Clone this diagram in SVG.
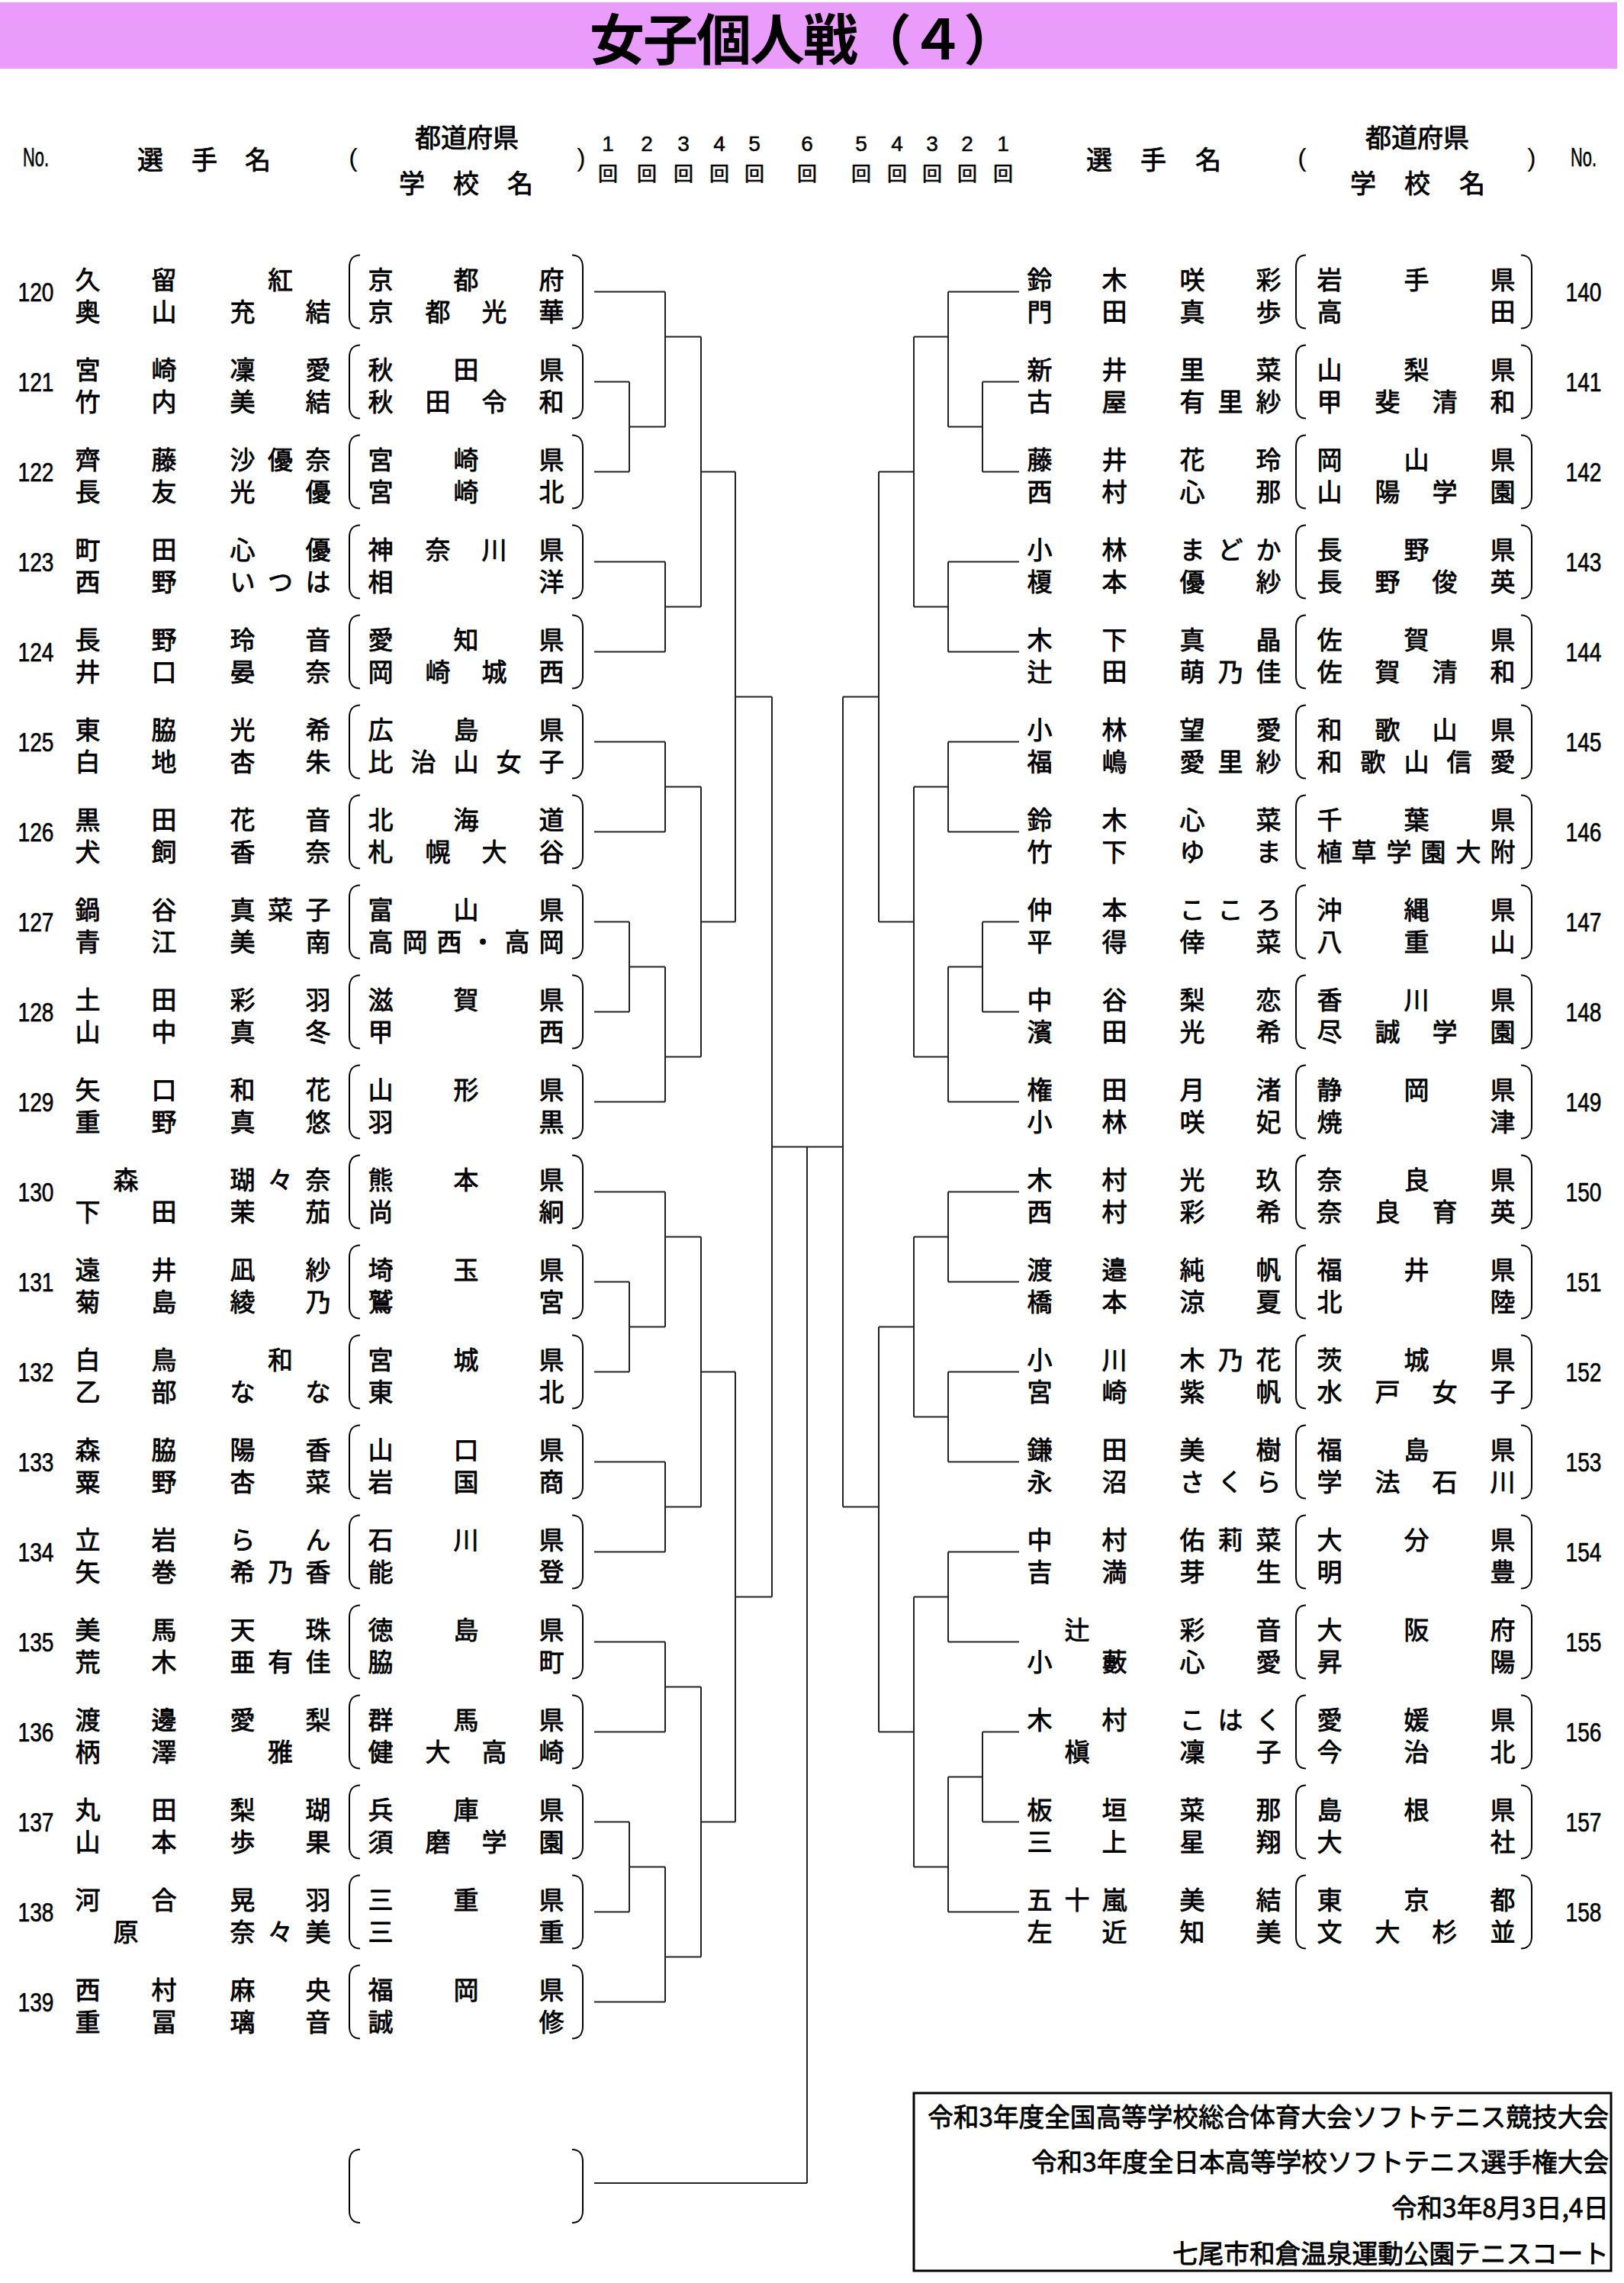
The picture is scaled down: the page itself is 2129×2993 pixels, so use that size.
<svg xmlns="http://www.w3.org/2000/svg" xmlns:xlink="http://www.w3.org/1999/xlink" width="2129" height="2993" viewBox="0 0 2129 2993">
<style>
.t{font-family:"Noto Sans CJK JP","Noto Sans CJK SC",sans-serif;font-size:33px;text-anchor:middle;dominant-baseline:central;fill:#000;stroke:#000;stroke-width:0.8px}
.h{font-family:"Noto Sans CJK JP","Noto Sans CJK SC",sans-serif;font-size:34px;text-anchor:middle;dominant-baseline:central;fill:#000;stroke:#000;stroke-width:0.8px}
.k{font-family:"Noto Sans CJK JP","Noto Sans CJK SC",sans-serif;font-size:26px;text-anchor:middle;dominant-baseline:central;fill:#000;stroke:#000;stroke-width:0.6px}
.d{font-family:"Liberation Sans",Arial,sans-serif;font-size:28px;text-anchor:middle;dominant-baseline:central;fill:#000;stroke:#000;stroke-width:0.5px}
.n{font-family:"Liberation Sans",Arial,sans-serif;font-size:35px;text-anchor:middle;dominant-baseline:central;fill:#000;stroke:#000;stroke-width:0.6px}
.p{font-family:"Liberation Sans",Arial,sans-serif;font-size:34px;text-anchor:middle;dominant-baseline:central;fill:#000}
.f{font-family:"Noto Sans CJK JP","Noto Sans CJK SC",sans-serif;font-size:34px;text-anchor:end;dominant-baseline:central;fill:#000;stroke:#000;stroke-width:0.8px}
.ln{fill:none;stroke:#222;stroke-width:2}
.br{fill:none;stroke:#000;stroke-width:2}
</style>
<defs>
<path id="bl" class="br" d="M472,-48 C463,-48 458,-42 458,-32 V32 C458,42 463,48 472,48 M750,-48 C759,-48 764,-42 764,-32 V32 C764,42 759,48 750,48"/>
<path id="brr" class="br" d="M1712,-48 C1703,-48 1699,-42 1699,-32 V32 C1699,42 1703,48 1712,48 M1994,-48 C2003,-48 2008,-42 2008,-32 V32 C2008,42 2003,48 1994,48"/>
</defs>
<rect width="2129" height="2993" fill="#fff"/>
<g id="title">
<rect x="0" y="3" width="2120" height="87" fill="#E99CF9"/>
<text x="773" y="46" font-family="'Noto Sans CJK JP','Noto Sans CJK SC',sans-serif" font-size="72" font-weight="bold" dominant-baseline="central" textLength="562" lengthAdjust="spacing">女子個人戦（４）</text>
</g>
<g id="header">
<text class="n" x="47" y="205" textLength="34" lengthAdjust="spacingAndGlyphs">No.</text>
<text class="h" x="197 268 338" y="207">選手名</text>
<text class="p" x="463" y="206">(</text>
<text class="h" x="612" y="178">都道府県</text>
<text class="h" x="540 611 682" y="238">学校名</text>
<text class="p" x="762" y="206">)</text>
<text class="d" x="797 848 896 943 989 1058" y="188">123456</text>
<text class="k" x="797 848 896 943 989 1058" y="225">回回回回回回</text>
<text class="d" x="1129 1176 1222 1268 1315" y="188">54321</text>
<text class="k" x="1129 1176 1222 1268 1315" y="225">回回回回回</text>
<text class="h" x="1441 1512 1584" y="207">選手名</text>
<text class="p" x="1707" y="206">(</text>
<text class="h" x="1858" y="178">都道府県</text>
<text class="h" x="1787 1858 1930" y="238">学校名</text>
<text class="p" x="2008" y="206">)</text>
<text class="n" x="2076" y="205" textLength="34" lengthAdjust="spacingAndGlyphs">No.</text>
</g>
<g id="connectors" class="ln">
<path d="M779 382.5H872M779 500.5H825M779 618.5H825M825 500.5V618.5M825 559.5H872M872 382.5V559.5M872 441.5H919M779 736.5H872M779 854.5H872M872 736.5V854.5M872 795.5H919M919 441.5V795.5M919 618.5H964
M779 972.5H872M779 1090.5H872M872 972.5V1090.5M872 1031.5H919M779 1208.5H825M779 1326.5H825M825 1208.5V1326.5M825 1267.5H872M779 1444.5H872M872 1267.5V1444.5M872 1385.5H919M919 1031.5V1385.5M919 1208.5H964M964 618.5V1208.5M964 913.5H1012
M779 1562.5H872M779 1680.5H825M779 1798.5H825M825 1680.5V1798.5M825 1739.5H872M872 1562.5V1739.5M872 1621.5H919M779 1916.5H872M779 2034.5H872M872 1916.5V2034.5M872 1975.5H919M919 1621.5V1975.5M919 1798.5H964
M779 2152.5H872M779 2270.5H872M872 2152.5V2270.5M872 2211.5H919M779 2388.5H825M779 2506.5H825M825 2388.5V2506.5M825 2447.5H872M779 2624.5H872M872 2447.5V2624.5M872 2565.5H919M919 2211.5V2565.5M919 2388.5H964M964 1798.5V2388.5M964 2093.5H1012M1012 913.5V2093.5
M1012 1503.5H1105M1058 1503.5V2862M779 2862H1058
M1336 382.5H1243M1336 500.5H1288M1336 618.5H1288M1288 500.5V618.5M1288 559.5H1243M1243 382.5V559.5M1243 441.5H1198M1336 736.5H1243M1336 854.5H1243M1243 736.5V854.5M1243 795.5H1198M1198 441.5V795.5M1198 618.5H1152
M1336 972.5H1243M1336 1090.5H1243M1243 972.5V1090.5M1243 1031.5H1198M1336 1208.5H1288M1336 1326.5H1288M1288 1208.5V1326.5M1288 1267.5H1243M1336 1444.5H1243M1243 1267.5V1444.5M1243 1385.5H1198M1198 1031.5V1385.5M1198 1208.5H1152M1152 618.5V1208.5M1152 913.5H1105
M1336 1562.5H1243M1336 1680.5H1243M1243 1562.5V1680.5M1243 1621.5H1198M1336 1798.5H1243M1336 1916.5H1243M1243 1798.5V1916.5M1243 1857.5H1198M1198 1621.5V1857.5M1198 1739.5H1152
M1336 2034.5H1243M1336 2152.5H1243M1243 2034.5V2152.5M1243 2093.5H1198M1336 2270.5H1288M1336 2388.5H1288M1288 2270.5V2388.5M1288 2329.5H1243M1336 2506.5H1243M1243 2329.5V2506.5M1243 2447.5H1198M1198 2093.5V2447.5M1198 2270.5H1152M1152 1739.5V2270.5M1152 1975.5H1105M1105 913.5V1975.5"/>
</g>
<g id="p120"><text class="n" x="47" y="382.5" textLength="47" lengthAdjust="spacingAndGlyphs">120</text><text class="t" x="115 215 367.5" y="365">久留紅</text><text class="t" x="115 215 318 417" y="406.5">奥山充結</text><text class="t" x="499 611 723" y="365">京都府</text><text class="t" x="499 574 648 723" y="406.5">京都光華</text><use href="#bl" y="382.5"/></g>
<g id="p121"><text class="n" x="47" y="500.5" textLength="47" lengthAdjust="spacingAndGlyphs">121</text><text class="t" x="115 215 318 417" y="483">宮崎凜愛</text><text class="t" x="115 215 318 417" y="524.5">竹内美結</text><text class="t" x="499 611 723" y="483">秋田県</text><text class="t" x="499 574 648 723" y="524.5">秋田令和</text><use href="#bl" y="500.5"/></g>
<g id="p122"><text class="n" x="47" y="618.5" textLength="47" lengthAdjust="spacingAndGlyphs">122</text><text class="t" x="115 215 318 367.5 417" y="601">齊藤沙優奈</text><text class="t" x="115 215 318 417" y="642.5">長友光優</text><text class="t" x="499 611 723" y="601">宮崎県</text><text class="t" x="499 611 723" y="642.5">宮崎北</text><use href="#bl" y="618.5"/></g>
<g id="p123"><text class="n" x="47" y="736.5" textLength="47" lengthAdjust="spacingAndGlyphs">123</text><text class="t" x="115 215 318 417" y="719">町田心優</text><text class="t" x="115 215 318 367.5 417" y="760.5">西野いつは</text><text class="t" x="499 574 648 723" y="719">神奈川県</text><text class="t" x="499 723" y="760.5">相洋</text><use href="#bl" y="736.5"/></g>
<g id="p124"><text class="n" x="47" y="854.5" textLength="47" lengthAdjust="spacingAndGlyphs">124</text><text class="t" x="115 215 318 417" y="837">長野玲音</text><text class="t" x="115 215 318 417" y="878.5">井口晏奈</text><text class="t" x="499 611 723" y="837">愛知県</text><text class="t" x="499 574 648 723" y="878.5">岡崎城西</text><use href="#bl" y="854.5"/></g>
<g id="p125"><text class="n" x="47" y="972.5" textLength="47" lengthAdjust="spacingAndGlyphs">125</text><text class="t" x="115 215 318 417" y="955">東脇光希</text><text class="t" x="115 215 318 417" y="996.5">白地杏朱</text><text class="t" x="499 611 723" y="955">広島県</text><text class="t" x="499 555 611 667 723" y="996.5">比治山女子</text><use href="#bl" y="972.5"/></g>
<g id="p126"><text class="n" x="47" y="1090.5" textLength="47" lengthAdjust="spacingAndGlyphs">126</text><text class="t" x="115 215 318 417" y="1073">黒田花音</text><text class="t" x="115 215 318 417" y="1114.5">犬飼香奈</text><text class="t" x="499 611 723" y="1073">北海道</text><text class="t" x="499 574 648 723" y="1114.5">札幌大谷</text><use href="#bl" y="1090.5"/></g>
<g id="p127"><text class="n" x="47" y="1208.5" textLength="47" lengthAdjust="spacingAndGlyphs">127</text><text class="t" x="115 215 318 367.5 417" y="1191">鍋谷真菜子</text><text class="t" x="115 215 318 417" y="1232.5">青江美南</text><text class="t" x="499 611 723" y="1191">富山県</text><text class="t" x="499 544 589 633 678 723" y="1232.5">高岡西・高岡</text><use href="#bl" y="1208.5"/></g>
<g id="p128"><text class="n" x="47" y="1326.5" textLength="47" lengthAdjust="spacingAndGlyphs">128</text><text class="t" x="115 215 318 417" y="1309">土田彩羽</text><text class="t" x="115 215 318 417" y="1350.5">山中真冬</text><text class="t" x="499 611 723" y="1309">滋賀県</text><text class="t" x="499 723" y="1350.5">甲西</text><use href="#bl" y="1326.5"/></g>
<g id="p129"><text class="n" x="47" y="1444.5" textLength="47" lengthAdjust="spacingAndGlyphs">129</text><text class="t" x="115 215 318 417" y="1427">矢口和花</text><text class="t" x="115 215 318 417" y="1468.5">重野真悠</text><text class="t" x="499 611 723" y="1427">山形県</text><text class="t" x="499 723" y="1468.5">羽黒</text><use href="#bl" y="1444.5"/></g>
<g id="p130"><text class="n" x="47" y="1562.5" textLength="47" lengthAdjust="spacingAndGlyphs">130</text><text class="t" x="165 318 367.5 417" y="1545">森瑚々奈</text><text class="t" x="115 215 318 417" y="1586.5">下田茉茄</text><text class="t" x="499 611 723" y="1545">熊本県</text><text class="t" x="499 723" y="1586.5">尚絅</text><use href="#bl" y="1562.5"/></g>
<g id="p131"><text class="n" x="47" y="1680.5" textLength="47" lengthAdjust="spacingAndGlyphs">131</text><text class="t" x="115 215 318 417" y="1663">遠井凪紗</text><text class="t" x="115 215 318 417" y="1704.5">菊島綾乃</text><text class="t" x="499 611 723" y="1663">埼玉県</text><text class="t" x="499 723" y="1704.5">鷲宮</text><use href="#bl" y="1680.5"/></g>
<g id="p132"><text class="n" x="47" y="1798.5" textLength="47" lengthAdjust="spacingAndGlyphs">132</text><text class="t" x="115 215 367.5" y="1781">白鳥和</text><text class="t" x="115 215 318 417" y="1822.5">乙部なな</text><text class="t" x="499 611 723" y="1781">宮城県</text><text class="t" x="499 723" y="1822.5">東北</text><use href="#bl" y="1798.5"/></g>
<g id="p133"><text class="n" x="47" y="1916.5" textLength="47" lengthAdjust="spacingAndGlyphs">133</text><text class="t" x="115 215 318 417" y="1899">森脇陽香</text><text class="t" x="115 215 318 417" y="1940.5">粟野杏菜</text><text class="t" x="499 611 723" y="1899">山口県</text><text class="t" x="499 611 723" y="1940.5">岩国商</text><use href="#bl" y="1916.5"/></g>
<g id="p134"><text class="n" x="47" y="2034.5" textLength="47" lengthAdjust="spacingAndGlyphs">134</text><text class="t" x="115 215 318 417" y="2017">立岩らん</text><text class="t" x="115 215 318 367.5 417" y="2058.5">矢巻希乃香</text><text class="t" x="499 611 723" y="2017">石川県</text><text class="t" x="499 723" y="2058.5">能登</text><use href="#bl" y="2034.5"/></g>
<g id="p135"><text class="n" x="47" y="2152.5" textLength="47" lengthAdjust="spacingAndGlyphs">135</text><text class="t" x="115 215 318 417" y="2135">美馬天珠</text><text class="t" x="115 215 318 367.5 417" y="2176.5">荒木亜有佳</text><text class="t" x="499 611 723" y="2135">徳島県</text><text class="t" x="499 723" y="2176.5">脇町</text><use href="#bl" y="2152.5"/></g>
<g id="p136"><text class="n" x="47" y="2270.5" textLength="47" lengthAdjust="spacingAndGlyphs">136</text><text class="t" x="115 215 318 417" y="2253">渡邊愛梨</text><text class="t" x="115 215 367.5" y="2294.5">柄澤雅</text><text class="t" x="499 611 723" y="2253">群馬県</text><text class="t" x="499 574 648 723" y="2294.5">健大高崎</text><use href="#bl" y="2270.5"/></g>
<g id="p137"><text class="n" x="47" y="2388.5" textLength="47" lengthAdjust="spacingAndGlyphs">137</text><text class="t" x="115 215 318 417" y="2371">丸田梨瑚</text><text class="t" x="115 215 318 417" y="2412.5">山本歩果</text><text class="t" x="499 611 723" y="2371">兵庫県</text><text class="t" x="499 574 648 723" y="2412.5">須磨学園</text><use href="#bl" y="2388.5"/></g>
<g id="p138"><text class="n" x="47" y="2506.5" textLength="47" lengthAdjust="spacingAndGlyphs">138</text><text class="t" x="115 215 318 417" y="2489">河合晃羽</text><text class="t" x="165 318 367.5 417" y="2530.5">原奈々美</text><text class="t" x="499 611 723" y="2489">三重県</text><text class="t" x="499 723" y="2530.5">三重</text><use href="#bl" y="2506.5"/></g>
<g id="p139"><text class="n" x="47" y="2624.5" textLength="47" lengthAdjust="spacingAndGlyphs">139</text><text class="t" x="115 215 318 417" y="2607">西村麻央</text><text class="t" x="115 215 318 417" y="2648.5">重冨璃音</text><text class="t" x="499 611 723" y="2607">福岡県</text><text class="t" x="499 723" y="2648.5">誠修</text><use href="#bl" y="2624.5"/></g>
<g id="empty"><use href="#bl" y="2866"/></g>
<g id="p140"><text class="n" x="2076" y="382.5" textLength="47" lengthAdjust="spacingAndGlyphs">140</text><text class="t" x="1363 1461 1563 1663" y="365">鈴木咲彩</text><text class="t" x="1363 1461 1563 1663" y="406.5">門田真歩</text><text class="t" x="1743 1857 1970" y="365">岩手県</text><text class="t" x="1743 1970" y="406.5">高田</text><use href="#brr" y="382.5"/></g>
<g id="p141"><text class="n" x="2076" y="500.5" textLength="47" lengthAdjust="spacingAndGlyphs">141</text><text class="t" x="1363 1461 1563 1663" y="483">新井里菜</text><text class="t" x="1363 1461 1563 1613 1663" y="524.5">古屋有里紗</text><text class="t" x="1743 1857 1970" y="483">山梨県</text><text class="t" x="1743 1819 1894 1970" y="524.5">甲斐清和</text><use href="#brr" y="500.5"/></g>
<g id="p142"><text class="n" x="2076" y="618.5" textLength="47" lengthAdjust="spacingAndGlyphs">142</text><text class="t" x="1363 1461 1563 1663" y="601">藤井花玲</text><text class="t" x="1363 1461 1563 1663" y="642.5">西村心那</text><text class="t" x="1743 1857 1970" y="601">岡山県</text><text class="t" x="1743 1819 1894 1970" y="642.5">山陽学園</text><use href="#brr" y="618.5"/></g>
<g id="p143"><text class="n" x="2076" y="736.5" textLength="47" lengthAdjust="spacingAndGlyphs">143</text><text class="t" x="1363 1461 1563 1613 1663" y="719">小林まどか</text><text class="t" x="1363 1461 1563 1663" y="760.5">榎本優紗</text><text class="t" x="1743 1857 1970" y="719">長野県</text><text class="t" x="1743 1819 1894 1970" y="760.5">長野俊英</text><use href="#brr" y="736.5"/></g>
<g id="p144"><text class="n" x="2076" y="854.5" textLength="47" lengthAdjust="spacingAndGlyphs">144</text><text class="t" x="1363 1461 1563 1663" y="837">木下真晶</text><text class="t" x="1363 1461 1563 1613 1663" y="878.5">辻田萌乃佳</text><text class="t" x="1743 1857 1970" y="837">佐賀県</text><text class="t" x="1743 1819 1894 1970" y="878.5">佐賀清和</text><use href="#brr" y="854.5"/></g>
<g id="p145"><text class="n" x="2076" y="972.5" textLength="47" lengthAdjust="spacingAndGlyphs">145</text><text class="t" x="1363 1461 1563 1663" y="955">小林望愛</text><text class="t" x="1363 1461 1563 1613 1663" y="996.5">福嶋愛里紗</text><text class="t" x="1743 1819 1894 1970" y="955">和歌山県</text><text class="t" x="1743 1800 1857 1913 1970" y="996.5">和歌山信愛</text><use href="#brr" y="972.5"/></g>
<g id="p146"><text class="n" x="2076" y="1090.5" textLength="47" lengthAdjust="spacingAndGlyphs">146</text><text class="t" x="1363 1461 1563 1663" y="1073">鈴木心菜</text><text class="t" x="1363 1461 1563 1663" y="1114.5">竹下ゆま</text><text class="t" x="1743 1857 1970" y="1073">千葉県</text><text class="t" x="1743 1788 1834 1879 1925 1970" y="1114.5">植草学園大附</text><use href="#brr" y="1090.5"/></g>
<g id="p147"><text class="n" x="2076" y="1208.5" textLength="47" lengthAdjust="spacingAndGlyphs">147</text><text class="t" x="1363 1461 1563 1613 1663" y="1191">仲本こころ</text><text class="t" x="1363 1461 1563 1663" y="1232.5">平得倖菜</text><text class="t" x="1743 1857 1970" y="1191">沖縄県</text><text class="t" x="1743 1857 1970" y="1232.5">八重山</text><use href="#brr" y="1208.5"/></g>
<g id="p148"><text class="n" x="2076" y="1326.5" textLength="47" lengthAdjust="spacingAndGlyphs">148</text><text class="t" x="1363 1461 1563 1663" y="1309">中谷梨恋</text><text class="t" x="1363 1461 1563 1663" y="1350.5">濱田光希</text><text class="t" x="1743 1857 1970" y="1309">香川県</text><text class="t" x="1743 1819 1894 1970" y="1350.5">尽誠学園</text><use href="#brr" y="1326.5"/></g>
<g id="p149"><text class="n" x="2076" y="1444.5" textLength="47" lengthAdjust="spacingAndGlyphs">149</text><text class="t" x="1363 1461 1563 1663" y="1427">権田月渚</text><text class="t" x="1363 1461 1563 1663" y="1468.5">小林咲妃</text><text class="t" x="1743 1857 1970" y="1427">静岡県</text><text class="t" x="1743 1970" y="1468.5">焼津</text><use href="#brr" y="1444.5"/></g>
<g id="p150"><text class="n" x="2076" y="1562.5" textLength="47" lengthAdjust="spacingAndGlyphs">150</text><text class="t" x="1363 1461 1563 1663" y="1545">木村光玖</text><text class="t" x="1363 1461 1563 1663" y="1586.5">西村彩希</text><text class="t" x="1743 1857 1970" y="1545">奈良県</text><text class="t" x="1743 1819 1894 1970" y="1586.5">奈良育英</text><use href="#brr" y="1562.5"/></g>
<g id="p151"><text class="n" x="2076" y="1680.5" textLength="47" lengthAdjust="spacingAndGlyphs">151</text><text class="t" x="1363 1461 1563 1663" y="1663">渡邉純帆</text><text class="t" x="1363 1461 1563 1663" y="1704.5">橋本涼夏</text><text class="t" x="1743 1857 1970" y="1663">福井県</text><text class="t" x="1743 1970" y="1704.5">北陸</text><use href="#brr" y="1680.5"/></g>
<g id="p152"><text class="n" x="2076" y="1798.5" textLength="47" lengthAdjust="spacingAndGlyphs">152</text><text class="t" x="1363 1461 1563 1613 1663" y="1781">小川木乃花</text><text class="t" x="1363 1461 1563 1663" y="1822.5">宮崎紫帆</text><text class="t" x="1743 1857 1970" y="1781">茨城県</text><text class="t" x="1743 1819 1894 1970" y="1822.5">水戸女子</text><use href="#brr" y="1798.5"/></g>
<g id="p153"><text class="n" x="2076" y="1916.5" textLength="47" lengthAdjust="spacingAndGlyphs">153</text><text class="t" x="1363 1461 1563 1663" y="1899">鎌田美樹</text><text class="t" x="1363 1461 1563 1613 1663" y="1940.5">永沼さくら</text><text class="t" x="1743 1857 1970" y="1899">福島県</text><text class="t" x="1743 1819 1894 1970" y="1940.5">学法石川</text><use href="#brr" y="1916.5"/></g>
<g id="p154"><text class="n" x="2076" y="2034.5" textLength="47" lengthAdjust="spacingAndGlyphs">154</text><text class="t" x="1363 1461 1563 1613 1663" y="2017">中村佑莉菜</text><text class="t" x="1363 1461 1563 1663" y="2058.5">吉満芽生</text><text class="t" x="1743 1857 1970" y="2017">大分県</text><text class="t" x="1743 1970" y="2058.5">明豊</text><use href="#brr" y="2034.5"/></g>
<g id="p155"><text class="n" x="2076" y="2152.5" textLength="47" lengthAdjust="spacingAndGlyphs">155</text><text class="t" x="1412 1563 1663" y="2135">辻彩音</text><text class="t" x="1363 1461 1563 1663" y="2176.5">小藪心愛</text><text class="t" x="1743 1857 1970" y="2135">大阪府</text><text class="t" x="1743 1970" y="2176.5">昇陽</text><use href="#brr" y="2152.5"/></g>
<g id="p156"><text class="n" x="2076" y="2270.5" textLength="47" lengthAdjust="spacingAndGlyphs">156</text><text class="t" x="1363 1461 1563 1613 1663" y="2253">木村こはく</text><text class="t" x="1412 1563 1663" y="2294.5">槇凜子</text><text class="t" x="1743 1857 1970" y="2253">愛媛県</text><text class="t" x="1743 1857 1970" y="2294.5">今治北</text><use href="#brr" y="2270.5"/></g>
<g id="p157"><text class="n" x="2076" y="2388.5" textLength="47" lengthAdjust="spacingAndGlyphs">157</text><text class="t" x="1363 1461 1563 1663" y="2371">板垣菜那</text><text class="t" x="1363 1461 1563 1663" y="2412.5">三上星翔</text><text class="t" x="1743 1857 1970" y="2371">島根県</text><text class="t" x="1743 1970" y="2412.5">大社</text><use href="#brr" y="2388.5"/></g>
<g id="p158"><text class="n" x="2076" y="2506.5" textLength="47" lengthAdjust="spacingAndGlyphs">158</text><text class="t" x="1363 1412 1461 1563 1663" y="2489">五十嵐美結</text><text class="t" x="1363 1461 1563 1663" y="2530.5">左近知美</text><text class="t" x="1743 1857 1970" y="2489">東京都</text><text class="t" x="1743 1819 1894 1970" y="2530.5">文大杉並</text><use href="#brr" y="2506.5"/></g>
<g id="footer">
<rect x="1198" y="2744" width="914" height="233" fill="none" stroke="#000" stroke-width="3"/>
<text class="f" x="2109" y="2773" textLength="893" lengthAdjust="spacingAndGlyphs">令和3年度全国高等学校総合体育大会ソフトテニス競技大会</text>
<text class="f" x="2109" y="2832" textLength="757" lengthAdjust="spacingAndGlyphs">令和3年度全日本高等学校ソフトテニス選手権大会</text>
<text class="f" x="2109" y="2892" textLength="285" lengthAdjust="spacingAndGlyphs">令和3年8月3日,4日</text>
<text class="f" x="2109" y="2952" textLength="572" lengthAdjust="spacingAndGlyphs">七尾市和倉温泉運動公園テニスコート</text>
</g>
</svg>
